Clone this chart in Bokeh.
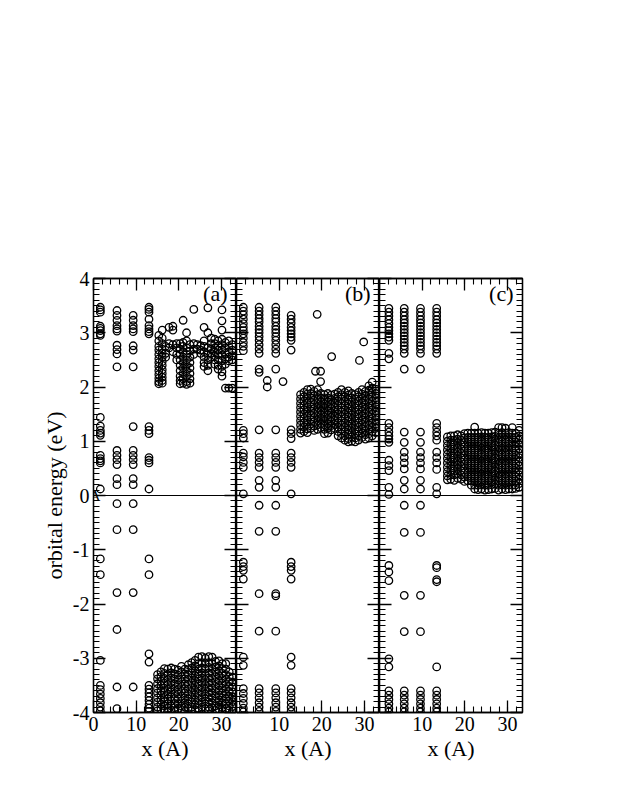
from bokeh.plotting import figure
from bokeh.models import LinearAxis, FixedTicker, Span, Label, Range1d, CustomLabelingPolicy
from bokeh.layouts import row
from bokeh.embed import file_html
from bokeh.resources import INLINE

FONT = "Liberation Serif"

# ---------------- data ----------------
X_TICKS = [0, 10, 20, 30]
Y_TICKS = [-4, -3, -2, -1, 0, 1, 2, 3, 4]
Y_TICK_LABELS = {-4: "-4", -3: "-3", -2: "-2", -1: "-1", 0: "0", 1: "1", 2: "2", 3: "3", 4: "4"}
PANEL_TAGS = ["(a)", "(b)", "(c)"]

# panel (a): atomic columns
A_COL_X = [1.6, 5.5, 9.3, 13.0]
A_COL_Y = [
    [3.47, 3.42, 3.38, 3.12, 3.08, 3.04, 2.98, 2.95, 1.44, 1.28, 1.2, 1.15, 1.11, 0.74, 0.68, 0.64, 0.6, 0.12,
     -1.17, -1.46, -3.04, -3.5, -3.58, -3.66, -3.74, -3.82, -3.9, -3.97],
    [3.41, 3.32, 3.23, 3.13, 3.07, 3.03, 2.77, 2.69, 2.61, 2.37, 0.83, 0.74, 0.66, 0.57, 0.31, 0.2,
     -0.15, -0.63, -1.79, -2.47, -3.53, -3.93],
    [3.32, 3.23, 3.13, 3.07, 3.02, 2.76, 2.68, 2.37, 1.27, 0.83, 0.74, 0.66, 0.57, 0.31, 0.2,
     -0.15, -0.63, -1.79, -3.53],
    [3.47, 3.43, 3.38, 3.25, 3.13, 3.07, 3.02, 2.98, 1.27, 1.2, 1.14, 0.7, 0.65, 0.6, 0.12,
     -1.17, -1.46, -2.92, -3.07, -3.5, -3.57, -3.64, -3.71, -3.78, -3.85, -3.92, -3.98],
]
# panel (a): conduction-band cloud
A_CB_X = [15.3, 16.1, 16.9, 17.7, 18.6, 19.5, 20.3, 21.0, 21.8, 22.6, 23.5, 24.3, 25.1, 25.9, 26.8,
          27.6, 28.4, 29.2, 30.1, 30.9, 31.7, 32.5]
A_CB_Y = [
    [2.95, 2.85, 2.75, 2.68, 2.6, 2.52, 2.45, 2.38, 2.3, 2.23, 2.16, 2.1, 2.06],
    [3.05, 2.9, 2.8, 2.7, 2.62, 2.55, 2.47, 2.4, 2.32, 2.25, 2.18, 2.12, 2.07],
    [2.75, 2.62, 2.55],
    [3.1, 2.8, 2.72],
    [3.12, 3.05, 2.78, 2.65],
    [2.8, 2.72, 2.6, 2.5],
    [2.8, 2.7, 2.6, 2.5, 2.4, 2.3, 2.2, 2.12, 2.06],
    [3.23, 2.82, 2.75, 2.65, 2.55, 2.45, 2.35, 2.25, 2.15, 2.07],
    [3.0, 2.85, 2.72, 2.6, 2.5, 2.4, 2.3, 2.2, 2.1, 2.05],
    [2.78, 2.66, 2.55, 2.45, 2.35, 2.25, 2.15, 2.07],
    [3.43, 2.8, 2.7, 2.6],
    [2.78, 2.7],
    [2.76, 2.68, 2.62],
    [3.1, 2.85, 2.75, 2.65, 2.55, 2.45, 2.38],
    [3.46, 3.0, 2.72, 2.6, 2.5, 2.4, 2.3],
    [2.9, 2.8, 2.7, 2.62, 2.55],
    [2.88, 2.8, 2.72, 2.65, 2.58, 2.5, 2.42],
    [2.85, 2.75, 2.68, 2.6, 2.5, 2.4, 2.33],
    [3.42, 3.22, 3.05, 2.88, 2.78, 2.68, 2.58, 2.48, 2.38, 2.28, 2.2],
    [2.82, 2.72, 2.62, 2.52, 2.42, 1.98],
    [2.85, 2.75, 2.65, 2.55, 2.48, 1.98],
    [2.78, 2.68, 2.58, 2.5, 1.98],
]
# panel (a): valence-band cloud
A_VB_X = [15.0, 15.8, 16.6, 17.4, 18.2, 19.0, 19.8, 20.6, 21.4, 22.2, 23.0, 23.8, 24.6, 25.4, 26.2,
          27.0, 27.8, 28.6, 29.4, 30.2, 31.0, 31.8, 32.6]
A_VB_Y = [
    [-3.3, -3.38, -3.47, -3.56, -3.64, -3.73, -3.81, -3.9, -3.97],
    [-3.25, -3.34, -3.42, -3.5, -3.6, -3.68, -3.77, -3.85, -3.94],
    [-3.19, -3.28, -3.37, -3.46, -3.55, -3.63, -3.72, -3.8, -3.88, -3.97],
    [-3.2, -3.3, -3.39, -3.48, -3.57, -3.66, -3.75, -3.84, -3.92, -3.98],
    [-3.18, -3.27, -3.36, -3.45, -3.54, -3.62, -3.71, -3.79, -3.88, -3.96],
    [-3.2, -3.29, -3.38, -3.47, -3.56, -3.65, -3.74, -3.83, -3.91, -3.98],
    [-3.22, -3.31, -3.4, -3.49, -3.58, -3.66, -3.75, -3.84, -3.93],
    [-3.15, -3.25, -3.34, -3.43, -3.52, -3.61, -3.7, -3.79, -3.88, -3.96],
    [-3.2, -3.29, -3.38, -3.47, -3.56, -3.64, -3.73, -3.82, -3.9, -3.98],
    [-3.12, -3.21, -3.3, -3.39, -3.48, -3.57, -3.66, -3.75, -3.84, -3.92],
    [-3.08, -3.18, -3.27, -3.36, -3.45, -3.54, -3.63, -3.72, -3.81, -3.9, -3.97],
    [-3.04, -3.14, -3.23, -3.32, -3.41, -3.5, -3.59, -3.68, -3.77, -3.86, -3.95],
    [-2.98, -3.1, -3.2, -3.29, -3.38, -3.47, -3.56, -3.65, -3.74, -3.83, -3.92, -3.98],
    [-2.97, -3.08, -3.18, -3.27, -3.36, -3.45, -3.54, -3.63, -3.72, -3.81, -3.9],
    [-3.0, -3.1, -3.2, -3.3, -3.39, -3.48, -3.57, -3.66, -3.75, -3.84, -3.93],
    [-2.97, -3.08, -3.17, -3.27, -3.36, -3.45, -3.54, -3.63, -3.72, -3.81, -3.9, -3.97],
    [-2.98, -3.1, -3.19, -3.28, -3.37, -3.46, -3.55, -3.64, -3.73, -3.82, -3.91],
    [-3.06, -3.16, -3.25, -3.34, -3.43, -3.52, -3.61, -3.7, -3.79, -3.88, -3.96],
    [-3.05, -3.14, -3.23, -3.32, -3.41, -3.5, -3.59, -3.68, -3.77, -3.86, -3.94],
    [-3.1, -3.19, -3.28, -3.37, -3.46, -3.55, -3.64, -3.73, -3.82, -3.91, -3.98],
    [-3.1, -3.2, -3.3, -3.39, -3.48, -3.57, -3.66, -3.75, -3.84, -3.93],
    [-3.25, -3.34, -3.43, -3.52, -3.61, -3.7, -3.79, -3.88, -3.96],
    [-3.35, -3.44, -3.53, -3.62, -3.71, -3.8, -3.89, -3.97],
]

# panel (b): atomic columns
B_COL_X = [1.6, 5.3, 9.2, 12.8]
B_COL_Y = [
    [3.47, 3.4, 3.33, 3.25, 3.17, 3.1, 3.04, 2.98, 2.9, 2.82, 2.75, 2.67, 1.2, 1.14, 1.06, 0.78, 0.71, 0.61,
     0.52, 0.03, -1.23, -1.31, -1.38, -1.54, -2.98, -3.13, -3.56, -3.65, -3.74, -3.83, -3.92, -3.99],
    [3.47, 3.4, 3.33, 3.26, 3.2, 3.12, 3.06, 3.0, 2.93, 2.86, 2.78, 2.7, 2.62, 2.33, 2.27, 1.21, 0.78, 0.7,
     0.61, 0.52, 0.28, 0.15, -0.18, -0.66, -1.81, -2.5, -3.56, -3.64, -3.73, -3.82, -3.9, -3.98],
    [3.47, 3.4, 3.33, 3.26, 3.2, 3.12, 3.06, 3.0, 2.93, 2.86, 2.78, 2.7, 2.62, 2.33, 1.21, 0.78, 0.7, 0.61,
     0.52, 0.28, 0.15, -0.18, -0.66, -1.81, -1.85, -2.5, -3.56, -3.64, -3.73, -3.82, -3.9, -3.98],
    [3.32, 3.25, 3.18, 3.1, 3.04, 2.98, 2.92, 2.86, 2.68, 1.21, 1.14, 1.05, 0.78, 0.7, 0.61, 0.52, 0.03,
     -1.23, -1.31, -1.38, -1.54, -2.98, -3.13, -3.56, -3.64, -3.73, -3.82, -3.9, -3.98],
]
B_EXTRA_X = [7.2, 7.2, 10.9, 18.9, 29.8, 22.3, 28.8, 18.5, 19.7, 19.7]
B_EXTRA_Y = [2.12, 2.0, 2.1, 3.34, 2.83, 2.56, 2.49, 2.29, 2.29, 2.1]
B_CB_X = [15.0, 15.8, 16.6, 17.4, 18.2, 19.0, 19.8, 20.6, 21.4, 22.2, 23.0, 23.8, 24.6, 25.4, 26.2,
          27.0, 27.8, 28.6, 29.4, 30.2, 31.0, 31.8, 32.6]
B_CB_Y = [
    [1.86, 1.78, 1.7, 1.62, 1.54, 1.46, 1.38, 1.3, 1.22, 1.15],
    [1.9, 1.82, 1.74, 1.66, 1.58, 1.5, 1.42, 1.34, 1.26, 1.18],
    [1.95, 1.87, 1.79, 1.71, 1.63, 1.55, 1.47, 1.39, 1.31, 1.23, 1.16],
    [1.96, 1.88, 1.8, 1.72, 1.64, 1.56, 1.48, 1.4, 1.32, 1.24],
    [1.92, 1.84, 1.76, 1.68, 1.6, 1.52, 1.44, 1.36, 1.28, 1.2],
    [1.95, 1.86, 1.78, 1.7, 1.62, 1.54, 1.46, 1.38, 1.3, 1.22],
    [1.88, 1.8, 1.72, 1.64, 1.56, 1.48, 1.4, 1.32, 1.25],
    [1.86, 1.78, 1.7, 1.62, 1.54, 1.46, 1.38, 1.3, 1.22, 1.14],
    [1.88, 1.8, 1.72, 1.64, 1.56, 1.48, 1.4, 1.32, 1.24, 1.15],
    [1.85, 1.77, 1.69, 1.61, 1.53, 1.45, 1.37, 1.29, 1.21],
    [1.87, 1.79, 1.71, 1.63, 1.55, 1.47, 1.39, 1.31, 1.24],
    [1.9, 1.82, 1.74, 1.66, 1.58, 1.5, 1.42, 1.34, 1.26, 1.18, 1.1],
    [1.95, 1.86, 1.78, 1.7, 1.62, 1.54, 1.46, 1.38, 1.3, 1.22, 1.14, 1.06],
    [1.9, 1.82, 1.74, 1.66, 1.58, 1.5, 1.42, 1.34, 1.26, 1.18, 1.1, 1.02],
    [1.93, 1.85, 1.77, 1.69, 1.61, 1.53, 1.45, 1.37, 1.29, 1.21, 1.13, 1.05, 0.99],
    [1.88, 1.8, 1.72, 1.64, 1.56, 1.48, 1.4, 1.32, 1.24, 1.16, 1.08, 1.0],
    [1.86, 1.78, 1.7, 1.62, 1.54, 1.46, 1.38, 1.3, 1.22, 1.14, 1.06, 0.99],
    [1.9, 1.82, 1.74, 1.66, 1.58, 1.5, 1.42, 1.34, 1.26, 1.18, 1.1, 1.02],
    [1.95, 1.87, 1.79, 1.71, 1.63, 1.55, 1.47, 1.39, 1.31, 1.23, 1.15, 1.07],
    [1.92, 1.84, 1.76, 1.68, 1.6, 1.52, 1.44, 1.36, 1.28, 1.2, 1.12, 1.04],
    [2.02, 1.94, 1.86, 1.78, 1.7, 1.62, 1.54, 1.46, 1.38, 1.3, 1.22, 1.14, 1.06],
    [2.09, 1.98, 1.9, 1.82, 1.74, 1.66, 1.58, 1.5, 1.42, 1.34, 1.26, 1.18, 1.1],
    [1.96, 1.88, 1.8, 1.72, 1.64, 1.56, 1.48, 1.4, 1.32, 1.24, 1.16],
]

# panel (c): atomic columns
C_COL_X = [2.2, 5.8, 9.6, 13.4]
C_COL_Y = [
    [3.45, 3.38, 3.31, 3.24, 3.17, 3.1, 3.04, 2.98, 2.92, 2.86, 2.62, 2.52, 1.33, 1.25, 1.17, 1.1, 1.04, 0.98,
     0.65, 0.55, 0.46, 0.15, 0.02, -1.29, -1.41, -1.57, -3.01, -3.16, -3.6, -3.68, -3.76, -3.84, -3.92, -3.99],
    [3.45, 3.38, 3.31, 3.24, 3.18, 3.12, 3.06, 3.0, 2.94, 2.88, 2.82, 2.76, 2.7, 2.62, 2.33, 1.17, 0.98, 0.8,
     0.7, 0.6, 0.49, 0.28, 0.12, -0.18, -0.68, -1.84, -2.51, -3.6, -3.68, -3.76, -3.84, -3.92, -3.99],
    [3.45, 3.38, 3.31, 3.24, 3.18, 3.12, 3.06, 3.0, 2.94, 2.88, 2.82, 2.76, 2.7, 2.62, 2.33, 1.17, 0.98, 0.8,
     0.7, 0.6, 0.49, 0.28, 0.12, -0.18, -0.68, -1.84, -2.51, -3.6, -3.68, -3.76, -3.84, -3.92, -3.99],
    [3.45, 3.38, 3.31, 3.24, 3.18, 3.12, 3.06, 3.0, 2.94, 2.88, 2.82, 2.76, 2.7, 2.62, 1.33, 1.25, 1.17, 1.1,
     1.02, 0.8, 0.7, 0.6, 0.48, 0.15, 0.03, -1.29, -1.33, -1.55, -1.59, -3.16, -3.6, -3.68, -3.76, -3.84,
     -3.92, -3.99],
]
C_CB_X = [15.9, 16.7, 17.5, 18.3, 19.1, 19.9, 20.7, 21.5, 22.3, 23.1, 23.9, 24.7, 25.5, 26.3, 27.1,
          27.9, 28.7, 29.5, 30.3, 31.1, 31.9, 32.7]
C_CB_Y = [
    [1.08, 1.0, 0.92, 0.84, 0.76, 0.68, 0.6, 0.52, 0.44, 0.36, 0.29],
    [1.1, 1.02, 0.94, 0.86, 0.78, 0.7, 0.62, 0.54, 0.46, 0.38, 0.3],
    [1.1, 1.02, 0.94, 0.86, 0.78, 0.7, 0.62, 0.54, 0.46, 0.38, 0.28],
    [1.12, 1.04, 0.96, 0.88, 0.8, 0.72, 0.64, 0.56, 0.48, 0.4, 0.32],
    [1.1, 1.02, 0.94, 0.86, 0.78, 0.7, 0.62, 0.54, 0.46, 0.38, 0.3],
    [1.14, 1.06, 0.98, 0.9, 0.82, 0.74, 0.66, 0.58, 0.5, 0.42, 0.34, 0.26],
    [1.15, 1.07, 0.99, 0.91, 0.83, 0.75, 0.67, 0.59, 0.51, 0.43, 0.35, 0.27],
    [1.15, 1.07, 0.99, 0.91, 0.83, 0.75, 0.67, 0.59, 0.51, 0.43, 0.35, 0.27, 0.19],
    [1.26, 1.15, 1.07, 0.99, 0.91, 0.83, 0.75, 0.67, 0.59, 0.51, 0.43, 0.35, 0.27, 0.19, 0.12],
    [1.15, 1.07, 0.99, 0.91, 0.83, 0.75, 0.67, 0.59, 0.51, 0.43, 0.35, 0.27, 0.19, 0.11],
    [1.16, 1.08, 1.0, 0.92, 0.84, 0.76, 0.68, 0.6, 0.52, 0.44, 0.36, 0.28, 0.2, 0.12],
    [1.15, 1.07, 0.99, 0.91, 0.83, 0.75, 0.67, 0.59, 0.51, 0.43, 0.35, 0.27, 0.19, 0.1],
    [1.15, 1.07, 0.99, 0.91, 0.83, 0.75, 0.67, 0.59, 0.51, 0.43, 0.35, 0.27, 0.19, 0.11],
    [1.16, 1.08, 1.0, 0.92, 0.84, 0.76, 0.68, 0.6, 0.52, 0.44, 0.36, 0.28, 0.2, 0.12],
    [1.17, 1.09, 1.01, 0.93, 0.85, 0.77, 0.69, 0.61, 0.53, 0.45, 0.37, 0.29, 0.21, 0.13],
    [1.25, 1.15, 1.07, 0.99, 0.91, 0.83, 0.75, 0.67, 0.59, 0.51, 0.43, 0.35, 0.27, 0.19, 0.1],
    [1.25, 1.16, 1.08, 1.0, 0.92, 0.84, 0.76, 0.68, 0.6, 0.52, 0.44, 0.36, 0.28, 0.2, 0.12],
    [1.24, 1.15, 1.07, 0.99, 0.91, 0.83, 0.75, 0.67, 0.59, 0.51, 0.43, 0.35, 0.27, 0.19, 0.11],
    [1.16, 1.08, 1.0, 0.92, 0.84, 0.76, 0.68, 0.6, 0.52, 0.44, 0.36, 0.28, 0.2, 0.12],
    [1.25, 1.15, 1.07, 0.99, 0.91, 0.83, 0.75, 0.67, 0.59, 0.51, 0.43, 0.35, 0.27, 0.19, 0.12],
    [1.15, 1.07, 0.99, 0.91, 0.83, 0.75, 0.67, 0.59, 0.51, 0.43, 0.35, 0.27, 0.19, 0.13],
    [1.2, 1.1, 1.02, 0.94, 0.86, 0.78, 0.7, 0.62, 0.54, 0.46, 0.38, 0.3, 0.22, 0.15],
]


def flatten(xs, ys):
    fx, fy = [], []
    for x, col in zip(xs, ys):
        fx += [x] * len(col)
        fy += list(col)
    return fx, fy


Y_MINOR = [round(-4 + 0.1 * i, 2) for i in range(81)]
X_MINOR = list(range(0, 34, 2))


def style_axis(ax, ticks, minor, labels, overrides=None):
    ax.ticker = FixedTicker(ticks=ticks, minor_ticks=minor)
    ax.major_tick_in = 12
    ax.major_tick_out = 0
    ax.minor_tick_in = 6
    ax.minor_tick_out = 0
    ax.axis_line_color = "black"
    ax.axis_line_width = 1.3
    ax.major_tick_line_color = "black"
    ax.major_tick_line_width = 1.3
    ax.minor_tick_line_color = "black"
    ax.minor_tick_line_width = 1.1
    if labels:
        ax.major_label_text_font = FONT
        ax.major_label_text_font_size = "20px"
        ax.major_label_text_color = "black"
        ax.major_label_standoff = 4
        if overrides:
            ax.major_label_overrides = overrides
    else:
        ax.major_label_text_font_size = "0px"
        ax.major_label_standoff = 0
        ax.major_label_policy = CustomLabelingPolicy(
            code="return new indices.constructor(indices.size)")


def make_panel(idx, groups):
    first = idx == 0
    last = idx == 2
    p = figure(frame_width=143, frame_height=434,
               x_range=Range1d(0, 33.5), y_range=Range1d(-4, 4),
               output_backend="svg", toolbar_location=None,
               x_axis_location=None, y_axis_location=None,
               min_border_top=278, min_border_bottom=60,
               min_border_left=93 if first else 0,
               min_border_right=30 if last else 0)
    p.xgrid.visible = False
    p.ygrid.visible = False
    p.outline_line_color = "black"
    p.outline_line_width = 1.3
    p.background_fill_color = "white"
    p.border_fill_color = "white"

    bottom = LinearAxis()
    style_axis(bottom, X_TICKS, X_MINOR, True, None if first else {0: ""})
    bottom.axis_label = "x (A)"
    bottom.axis_label_text_font = FONT
    bottom.axis_label_text_font_size = "22px"
    bottom.axis_label_text_font_style = "normal"
    bottom.axis_label_text_color = "black"
    bottom.axis_label_standoff = 2
    p.add_layout(bottom, "below")

    top = LinearAxis()
    style_axis(top, X_TICKS, X_MINOR, False)
    p.add_layout(top, "above")

    left = LinearAxis()
    if first:
        style_axis(left, Y_TICKS, Y_MINOR, True, Y_TICK_LABELS)
        left.axis_label = "orbital energy (eV)"
        left.axis_label_text_font = FONT
        left.axis_label_text_font_size = "22px"
        left.axis_label_text_font_style = "normal"
        left.axis_label_text_color = "black"
        left.axis_label_standoff = 3
    else:
        style_axis(left, Y_TICKS, Y_MINOR, False)
    p.add_layout(left, "left")

    right = LinearAxis()
    style_axis(right, Y_TICKS, Y_MINOR, False)
    p.add_layout(right, "right")

    p.add_layout(Span(location=0, dimension="width", line_color="black", line_width=1.2))

    for gx, gy in groups:
        p.scatter(gx, gy, marker="circle", size=7.5, fill_alpha=0,
                  line_color="black", line_width=1.3)

    p.add_layout(Label(x=31.4, y=3.95, text=PANEL_TAGS[idx], text_align="right",
                       text_baseline="top", text_font=FONT, text_font_size="22px",
                       text_color="black"))
    if first:
        p.add_layout(Label(x=0.4, y=0.0, text="A", text_align="center",
                           text_baseline="middle", text_font=FONT, text_font_size="15px",
                           text_color="black"))
    return p


pa = make_panel(0, [flatten(A_COL_X, A_COL_Y), flatten(A_CB_X, A_CB_Y), flatten(A_VB_X, A_VB_Y)])
pb = make_panel(1, [flatten(B_COL_X, B_COL_Y), (B_EXTRA_X, B_EXTRA_Y), flatten(B_CB_X, B_CB_Y)])
pc = make_panel(2, [flatten(C_COL_X, C_COL_Y), flatten(C_CB_X, C_CB_Y)])

layout = row(pa, pb, pc, spacing=0)
open("out.html", "w").write(file_html(layout, INLINE))
